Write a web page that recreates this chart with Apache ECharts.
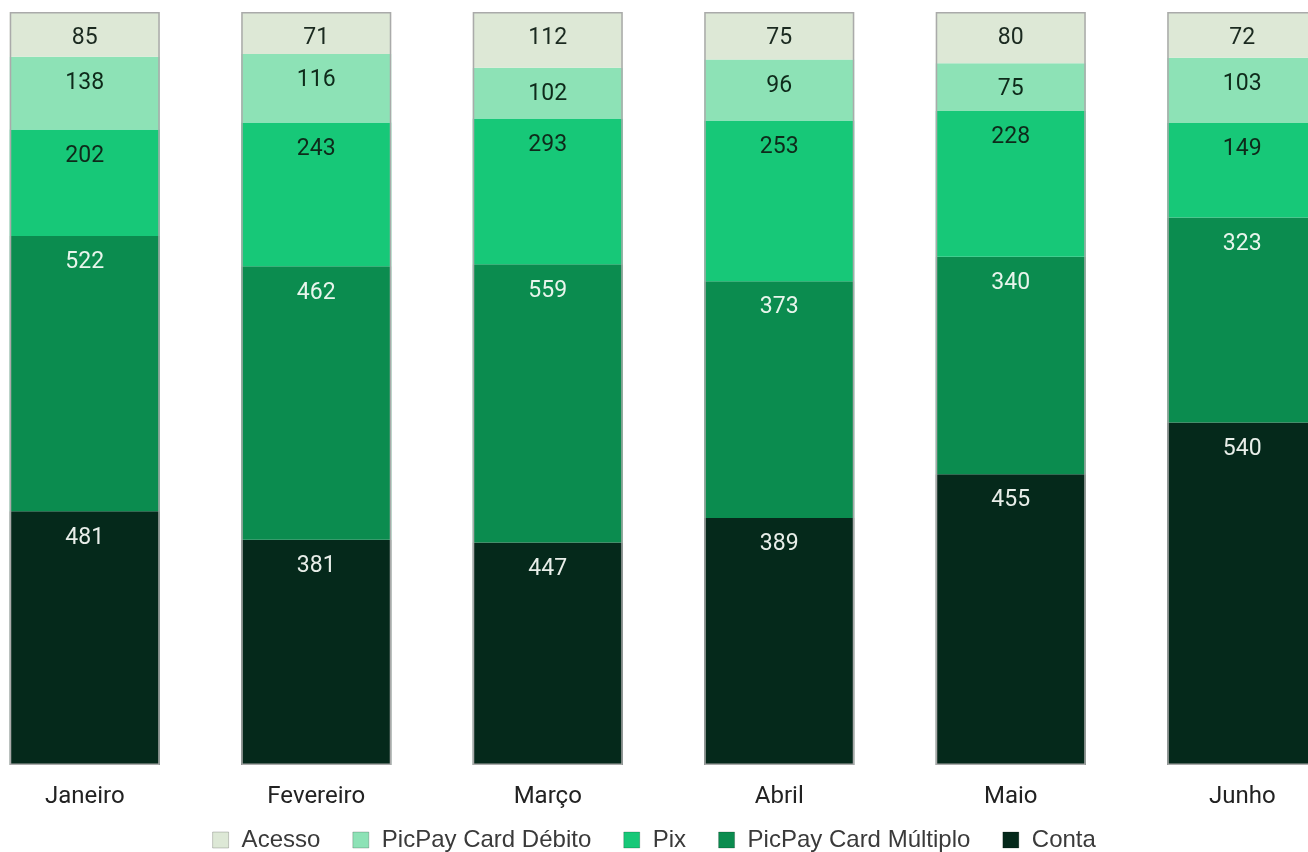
<!DOCTYPE html>
<html>
<head>
<meta charset="utf-8">
<script src="https://cdn.jsdelivr.net/npm/echarts@6/dist/echarts.min.js"></script>
<style>
  html, body { margin: 0; padding: 0; background: #fff; }
  #chart { width: 1308px; height: 852px; }
</style>
</head>
<body>
<div id="chart"></div>
<script>
const months = ['Janeiro', 'Fevereiro', 'Março', 'Abril', 'Maio', 'Junho']
const conta = [481, 381, 447, 389, 455, 540]
const multiplo = [522, 462, 559, 373, 340, 323]
const pix = [202, 243, 293, 253, 228, 149]
const debito = [138, 116, 102, 96, 75, 103]
const acesso = [85, 71, 112, 75, 80, 72]

const totals = months.map((m, i) => conta[i] + multiplo[i] + pix[i] + debito[i] + acesso[i])
const pct = arr => arr.map((v, i) => ({ value: v / totals[i] * 100, raw: v }))

const chart = echarts.init(document.getElementById('chart'))

function layer (name, values, color, labelColor) {
  return {
    name: name,
    type: 'bar',
    stack: 'total',
    barWidth: 150,
    data: pct(values),
    itemStyle: { color: color, borderColor: 'rgba(0,0,0,0.18)', borderWidth: 0 },
    label: {
      show: true,
      position: 'insideTop',
      distance: 15,
      color: labelColor,
      fontFamily: 'Roboto',
      fontSize: 23,
      formatter: p => p.data.raw
    }
  }
}

const option = {
  animation: false,
  grid: { left: -31, top: 12, width: 1389, bottom: 87, outerBoundsMode: 'none', containLabel: false },
  legend: {
    data: ['Acesso', 'PicPay Card Débito', 'Pix', 'PicPay Card Múltiplo', 'Conta'],
    top: 823,
    left: 'center',
    itemWidth: 16,
    itemHeight: 16,
    itemGap: 32,
    icon: 'rect',
    itemStyle: { borderColor: 'rgba(0,0,0,0.2)', borderWidth: 1 },
    textStyle: { fontFamily: 'Liberation Sans', fontSize: 24, color: '#3a3a3a', padding: [0, 0, 0, 8] }
  },
  xAxis: {
    type: 'category',
    data: months,
    axisLine: { show: false },
    axisTick: { show: false },
    axisLabel: { margin: 20, fontFamily: 'Roboto', fontSize: 24, color: '#222' }
  },
  yAxis: { type: 'value', min: 0, max: 100, show: false },
  series: [
    layer('Conta', conta, '#05291b', '#e8eee9'),
    layer('PicPay Card Múltiplo', multiplo, '#0b8c4f', '#e8f5ec'),
    layer('Pix', pix, '#17c878', '#0e2a1a'),
    layer('PicPay Card Débito', debito, '#8de2b6', '#0e2a1a'),
    layer('Acesso', acesso, '#dde8d6', '#1b2a20'),
    {
      name: 'frame',
      type: 'bar',
      stack: 'frame',
      barWidth: 150,
      barGap: '-100%',
      silent: true,
      z: 5,
      data: totals.map(() => 100),
      itemStyle: { color: 'transparent', borderColor: '#aaaaaa', borderWidth: 1.5 }
    }
  ]
}

chart.setOption(option)
</script>
</body>
</html>
